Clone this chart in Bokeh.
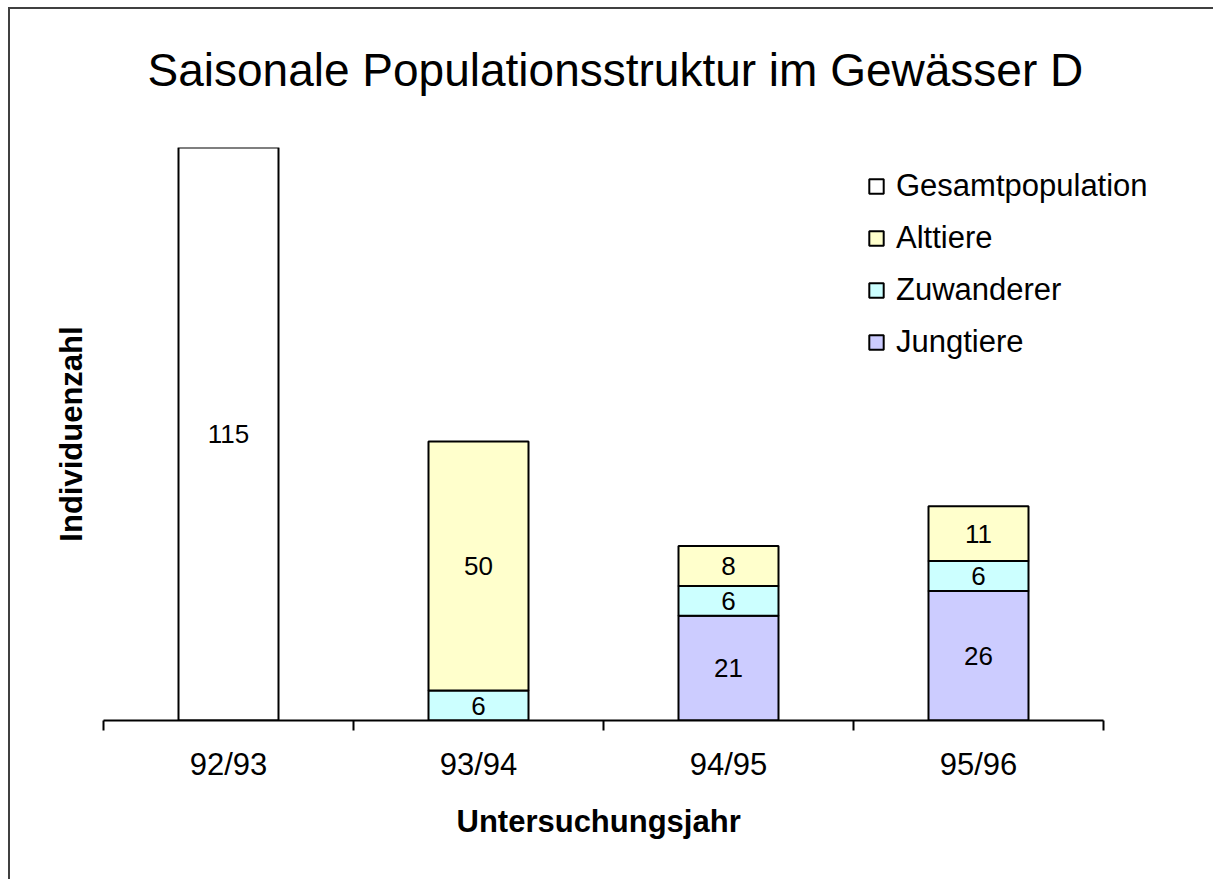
import numpy as np
from bokeh.plotting import figure
from bokeh.models import (ColumnDataSource, FixedTicker, LinearAxis, Legend,
                          LegendItem, Range1d, Title)
from bokeh.core.properties import value
from bokeh.embed import file_html
from bokeh.resources import INLINE

# ---- data -------------------------------------------------------------
categories = ["92/93", "93/94", "94/95", "95/96"]
gesamtpopulation = [115, 0, 0, 0]
jungtiere = [0, 0, 21, 26]
zuwanderer = [0, 6, 6, 6]
alttiere = [0, 50, 8, 11]

title_text = "Saisonale Populationsstruktur im Gewässer D"
x_label = "Untersuchungsjahr"
y_label = "Individuenzahl"

FONT = "Liberation Sans"
n = len(categories)

# ---- figure -----------------------------------------------------------
W, H = 1210, 872
LEFT = 95
PX_PER_CAT = 250  # category spacing in pixels
# the frame extends to the right edge so the legend is not clipped;
# the x axis itself is bounded to the four categories
p = figure(width=W, height=H, output_backend="svg", toolbar_location=None,
           title=None,
           x_range=Range1d(0, (W - LEFT) / PX_PER_CAT), y_range=Range1d(0, 115),
           x_axis_location=None, y_axis_location=None,
           min_border_left=LEFT, min_border_right=0,
           min_border_top=140, min_border_bottom=H - 713)
# outer chart frame: only its left and top edges are inside the picture
p.styles = {
    "margin-left": "8px", "margin-top": "7px",
    "background": ("linear-gradient(#404040, #404040) 0 0 / 2px 100% no-repeat, "
                   "linear-gradient(#404040, #404040) 0 0 / 100% 2px no-repeat, white"),
    "clip-path": "inset(0px 5px 0px 0px)",
}
p.outline_line_color = None
p.xgrid.visible = False
p.ygrid.visible = False
p.background_fill_color = None
p.border_fill_color = None

# spacer nearest the frame, then the main title above it
p.add_layout(Title(text=" ", text_font=FONT, text_font_size="10px", standoff=29), "above")
p.add_layout(Title(text=title_text, align="left", offset=44, standoff=20,
                   text_font=FONT, text_font_size="46px", text_font_style="normal",
                   text_color="black"), "above")

# x axis: labels at category centres, ticks at category boundaries
xs = np.arange(n) + 0.5
xaxis = LinearAxis(ticker=FixedTicker(ticks=list(xs), minor_ticks=list(range(n + 1))),
                   bounds=(0, n))
xaxis.major_label_overrides = {float(x): c for x, c in zip(xs, categories)}
xaxis.major_tick_line_color = None
xaxis.major_tick_out = 0
xaxis.major_tick_in = 0
xaxis.minor_tick_out = 10
xaxis.minor_tick_in = 0
xaxis.minor_tick_line_color = "black"
xaxis.minor_tick_line_width = 2
xaxis.axis_line_color = "black"
xaxis.axis_line_width = 2
xaxis.major_label_text_font = FONT
xaxis.major_label_text_font_size = "31px"
xaxis.major_label_text_color = "black"
xaxis.major_label_standoff = 16
p.add_layout(xaxis, "below")

xtitle = Title(text=x_label, align="left", offset=353, standoff=34,
               text_font=FONT, text_font_size="31px", text_font_style="bold",
               text_color="black")
p.add_layout(xtitle, "below")

yaxis = LinearAxis(ticker=FixedTicker(ticks=[]))
yaxis.axis_line_color = None
yaxis.major_tick_line_color = None
yaxis.minor_tick_line_color = None
yaxis.major_tick_out = 0
yaxis.major_label_standoff = 0
yaxis.axis_label = y_label
yaxis.axis_label_text_font = FONT
yaxis.axis_label_text_font_size = "31px"
yaxis.axis_label_text_font_style = "bold"
yaxis.axis_label_text_color = "black"
yaxis.axis_label_standoff = 15
p.add_layout(yaxis, "left")

# ---- bars -------------------------------------------------------------
series = [
    ("Jungtiere", jungtiere, "#CCCCFF"),
    ("Zuwanderer", zuwanderer, "#CCFFFF"),
    ("Alttiere", alttiere, "#FFFFCC"),
    ("Gesamtpopulation", gesamtpopulation, "#FFFFFF"),
]
bottom = np.zeros(n)
renderers = {}
for name, vals, color in series:
    v = np.array(vals, dtype=float)
    mask = v > 0
    top = bottom + v
    src = ColumnDataSource(dict(
        x=xs[mask], bottom=bottom[mask], top=top[mask],
        mid=((bottom + top) / 2)[mask],
        label=[str(int(t)) for t in v[mask]],
    ))
    r = p.vbar(x="x", bottom="bottom", top="top", width=0.4, source=src,
               fill_color=color, line_color="black", line_width=2)
    p.text(x="x", y="mid", text="label", source=src,
           text_align="center", text_baseline="middle",
           text_font=value(FONT), text_font_size="26px", text_color="black")
    renderers[name] = r
    bottom = top

legend = Legend(items=[LegendItem(label=nm, renderers=[renderers[nm]])
                       for nm in ["Gesamtpopulation", "Alttiere", "Zuwanderer", "Jungtiere"]],
                location=(764, 358))
legend.label_text_font = FONT
legend.label_text_font_size = "31px"
legend.label_text_color = "black"
legend.glyph_width = 18
legend.glyph_height = 18
legend.label_height = 40
legend.label_standoff = 11
legend.spacing = 12
legend.padding = 0
legend.margin = 0
legend.border_line_color = None
legend.background_fill_alpha = 0
p.add_layout(legend, "center")

open("out.html", "w").write(file_html(p, INLINE))
